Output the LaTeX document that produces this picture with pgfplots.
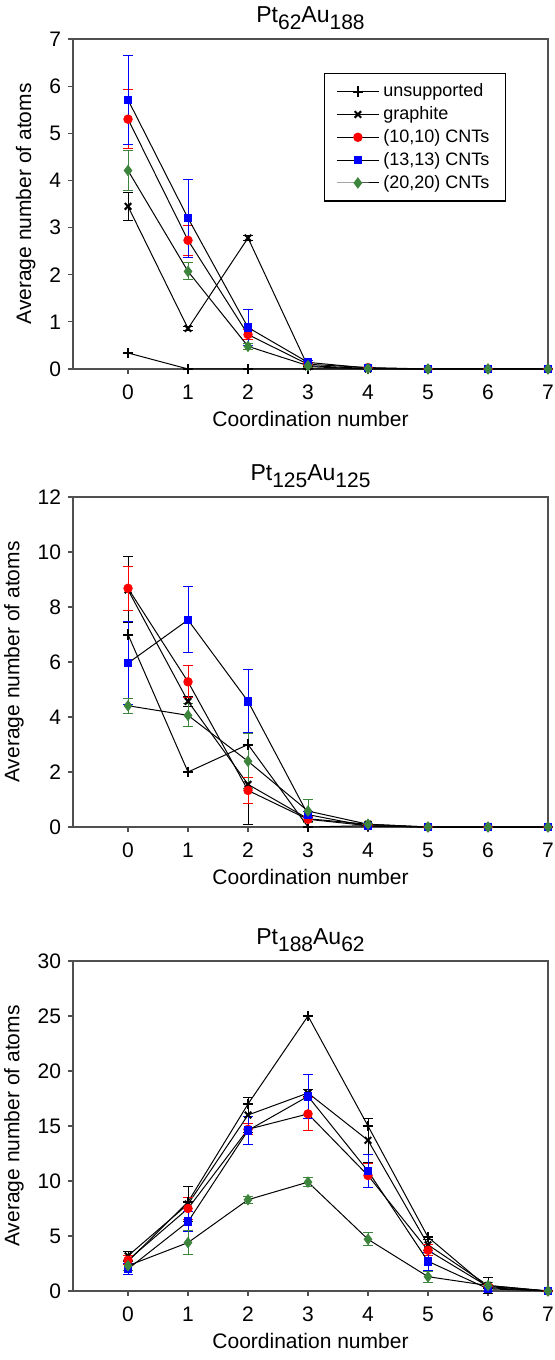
\documentclass[border=0pt]{standalone}
\usepackage{fontspec}
\setmainfont{Liberation Sans}
\usepackage{pgfplots}
\pgfplotsset{compat=1.18}
\definecolor{cntgreen}{RGB}{61,133,61}
\definecolor{framegray}{RGB}{80,80,80}

\newcommand{\sub}[1]{\raisebox{-0.32em}{\fontsize{10.5}{12}\selectfont #1}}

\pgfplotsset{
  panel/.style={
    scale only axis, width=237.5pt, height=165pt,
    xmin=-0.917, xmax=7, xtick={0,...,7},
    ymin=0,
    tick align=outside, xtick pos=bottom, ytick pos=left,
    major tick length=2.5pt,
    axis line style={framegray, line width=0.6pt},
    every tick/.style={framegray, line width=0.6pt},
    tick label style={font=\fontsize{10.5}{12}\selectfont},
    xticklabel style={yshift=-2pt},
    /pgf/number format/assume math mode=true,
    label style={font=\fontsize{10.5}{12}\selectfont},
    xlabel style={yshift=1pt},
    title style={font=\fontsize{11.5}{13}\selectfont, yshift=-5pt},
    xlabel={Coordination number},
    ylabel={Average number of atoms},
    clip=false,
  },
  unsup/.style={black, line width=0.5pt, mark=+, mark size=2.6pt,
    mark options={solid, black, line width=1pt}},
  graph/.style={black, line width=0.5pt, mark=x, mark size=2.3pt,
    mark options={solid, black, line width=1pt},
    error bars/.cd, y dir=both, y explicit,
    error bar style={black, line width=0.5pt},
    error mark options={rotate=90, black, mark size=2.5pt, line width=0.5pt}},
  cten/.style={black, line width=0.5pt, mark=*, mark size=2.1pt,
    mark options={solid, red},
    error bars/.cd, y dir=both, y explicit,
    error bar style={red, line width=0.5pt},
    error mark options={rotate=90, red, mark size=2.5pt, line width=0.5pt}},
  cthirteen/.style={black, line width=0.5pt, mark=square*, mark size=1.9pt,
    mark options={solid, blue},
    error bars/.cd, y dir=both, y explicit,
    error bar style={blue, line width=0.5pt},
    error mark options={rotate=90, blue, mark size=2.5pt, line width=0.5pt}},
  ctwenty/.style={black, line width=0.5pt, mark=diamond*, mark size=2.5pt,
    mark options={solid, cntgreen},
    error bars/.cd, y dir=both, y explicit,
    error bar style={cntgreen, line width=0.5pt},
    error mark options={rotate=90, cntgreen, mark size=2.5pt, line width=0.5pt}},
}

\begin{document}
\begin{tikzpicture}
\path[use as bounding box] (0,0) rectangle (277pt,-680pt);

% Pt62Au188
\begin{axis}[panel, at={(36.5pt,-19.5pt)}, anchor=north west,
  ymax=7, ytick={0,...,7},
  title={Pt\sub{62}Au\sub{188}},
  legend style={at={(0.9116,0.897)}, anchor=north east, draw=black,
    line width=0.6pt, font=\fontsize{9}{10.5}\selectfont,
    row sep=-0.6pt, inner xsep=6pt, inner ysep=3pt},
  legend cell align=left,
  legend image code/.code={\draw[mark repeat=2, mark phase=2, #1]
    plot coordinates {(0pt,0pt) (10.5pt,0pt) (21pt,0pt)};},
]
\addplot[unsup] coordinates {(0,0.34) (1,0) (2,0) (3,0) (4,0) (5,0) (6,0) (7,0)};
\addplot[graph] coordinates {(0,3.45) +- (0,0.29) (1,0.86) +- (0,0.05) (2,2.78) +- (0,0.05)
  (3,0.05) +- (0,0) (4,0) +- (0,0) (5,0) +- (0,0) (6,0) +- (0,0) (7,0) +- (0,0)};
\addplot[cten] coordinates {(0,5.30) +- (0,0.62) (1,2.73) +- (0,0.32) (2,0.73) +- (0,0.10)
  (3,0.10) +- (0,0.03) (4,0.03) +- (0,0) (5,0) +- (0,0) (6,0) +- (0,0) (7,0) +- (0,0)};
\addplot[cthirteen] coordinates {(0,5.71) +- (0,0.94) (1,3.20) +- (0,0.83) (2,0.88) +- (0,0.39)
  (3,0.14) +- (0,0.03) (4,0.02) +- (0,0) (5,0) +- (0,0) (6,0) +- (0,0) (7,0) +- (0,0)};
\addplot[ctwenty] coordinates {(0,4.21) +- (0,0.42) (1,2.07) +- (0,0.18) (2,0.48) +- (0,0.07)
  (3,0.07) +- (0,0.03) (4,0.01) +- (0,0) (5,0) +- (0,0) (6,0) +- (0,0) (7,0) +- (0,0)};
\legend{unsupported, graphite, {(10,10) CNTs}, {(13,13) CNTs}, {(20,20) CNTs}}
\end{axis}

% Pt125Au125
\begin{axis}[panel, at={(36.5pt,-248.5pt)}, anchor=north west,
  ymax=12, ytick={0,2,...,12},
  title={Pt\sub{125}Au\sub{125}},
]
\addplot[unsup] coordinates {(0,7.0) (1,2.0) (2,3.0) (3,0.0) (4,0.05) (5,0) (6,0) (7,0)};
\addplot[graph] coordinates {(0,8.62) +- (0,1.2) (1,4.57) +- (0,0.18) (2,1.55) +- (0,1.45)
  (3,0.30) +- (0,0.1) (4,0.10) +- (0,0) (5,0) +- (0,0) (6,0) +- (0,0) (7,0) +- (0,0)};
\addplot[cten] coordinates {(0,8.68) +- (0,0.8) (1,5.28) +- (0,0.58) (2,1.33) +- (0,0.48)
  (3,0.28) +- (0,0.1) (4,0.05) +- (0,0) (5,0) +- (0,0) (6,0) +- (0,0) (7,0) +- (0,0)};
\addplot[cthirteen] coordinates {(0,5.96) +- (0,1.5) (1,7.53) +- (0,1.2) (2,4.57) +- (0,1.15)
  (3,0.45) +- (0,0.1) (4,0.03) +- (0,0) (5,0) +- (0,0) (6,0) +- (0,0) (7,0) +- (0,0)};
\addplot[ctwenty] coordinates {(0,4.41) +- (0,0.28) (1,4.06) +- (0,0.42) (2,2.39) +- (0,1.0)
  (3,0.58) +- (0,0.42) (4,0.10) +- (0,0.03) (5,0) +- (0,0) (6,0) +- (0,0) (7,0) +- (0,0)};
\end{axis}

% Pt188Au62
\begin{axis}[panel, at={(36.5pt,-480.5pt)}, anchor=north west,
  ymax=30, ytick={0,5,...,30},
  title={Pt\sub{188}Au\sub{62}},
]
\addplot[unsup] coordinates {(0,2.7) (1,8.1) (2,17.0) (3,25.0) (4,15.0) (5,4.9) (6,0.3) (7,0)};
\addplot[graph] coordinates {(0,3.2) +- (0,0.4) (1,7.9) +- (0,1.6) (2,16.0) +- (0,1.6)
  (3,18.0) +- (0,0.3) (4,13.7) +- (0,2.0) (5,4.2) +- (0,0.5) (6,0.5) +- (0,0.7) (7,0) +- (0,0)};
\addplot[cten] coordinates {(0,2.8) +- (0,0.4) (1,7.5) +- (0,1.0) (2,14.7) +- (0,0.5)
  (3,16.1) +- (0,1.5) (4,10.5) +- (0,1.1) (5,3.7) +- (0,0.5) (6,0.4) +- (0,0.2) (7,0) +- (0,0)};
\addplot[cthirteen] coordinates {(0,2.0) +- (0,0.5) (1,6.3) +- (0,0.9) (2,14.6) +- (0,1.3)
  (3,17.7) +- (0,2.0) (4,10.9) +- (0,1.5) (5,2.7) +- (0,0.8) (6,0.2) +- (0,0.2) (7,0) +- (0,0)};
\addplot[ctwenty] coordinates {(0,2.3) +- (0,0.4) (1,4.4) +- (0,1.1) (2,8.3) +- (0,0.3)
  (3,9.9) +- (0,0.4) (4,4.7) +- (0,0.6) (5,1.3) +- (0,0.5) (6,0.5) +- (0,0.3) (7,0) +- (0,0)};
\end{axis}
\end{tikzpicture}
\end{document}
